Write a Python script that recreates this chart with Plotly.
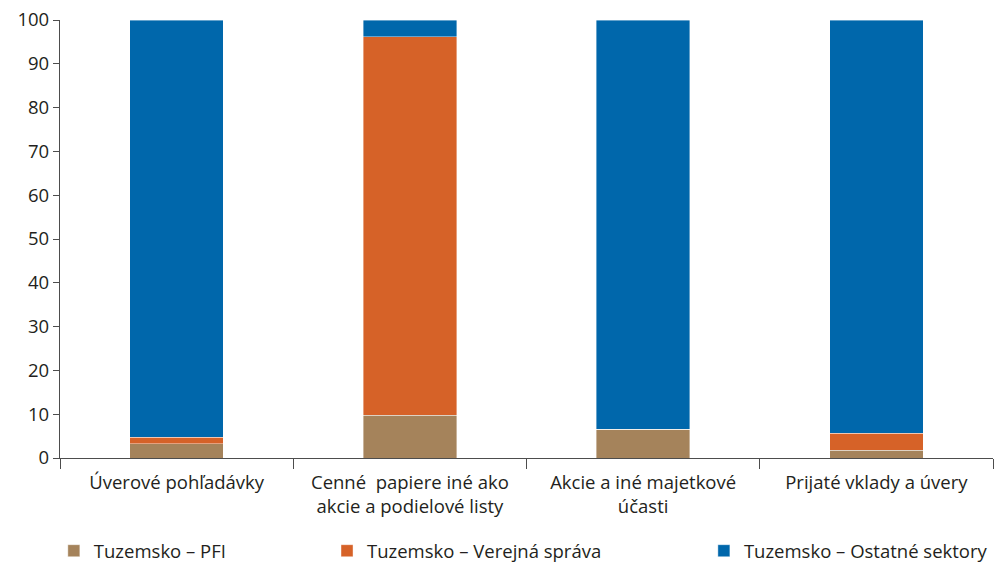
import plotly.graph_objects as go

categories = [
    "Úverové pohľadávky",
    "Cenné  papiere iné ako<br>akcie a podielové listy",
    "Akcie a iné majetkové<br>účasti",
    "Prijaté vklady a úvery",
]
pfi = [3.3, 9.8, 6.6, 1.8]
verejna_sprava = [1.4, 86.4, 0.0, 3.8]
ostatne_sektory = [95.3, 3.8, 93.4, 94.4]

series = [
    ("Tuzemsko – PFI", pfi, "#a5835b", "legend"),
    ("Tuzemsko – Verejná správa", verejna_sprava, "#d66228", "legend2"),
    ("Tuzemsko – Ostatné sektory", ostatne_sektory, "#0067ab", "legend3"),
]

font = dict(family="'Open Sans', sans-serif", size=18.5, color="#231f20")

fig = go.Figure()
for name, vals, color, leg in series:
    fig.add_trace(go.Bar(
        x=categories, y=vals, name=name, legend=leg, showlegend=True,
        marker=dict(color=color, line=dict(color="rgba(255,255,255,0.5)", width=0.8)),
    ))

leg_common = dict(orientation="h", xref="container", yref="container",
                  yanchor="middle", y=0.021, xanchor="left", visible=True,
                  font=font, bgcolor="rgba(0,0,0,0)", itemwidth=30)

fig.update_layout(
    barmode="stack",
    bargap=0.6,
    showlegend=True,
    width=997, height=563,
    margin=dict(l=60, r=4, t=20, b=105, autoexpand=False),
    paper_bgcolor="white", plot_bgcolor="white",
    font=font,
    legend=dict(leg_common, x=0.054),
    legend2=dict(leg_common, x=0.328),
    legend3=dict(leg_common, x=0.706),
    xaxis=dict(
        showline=True, linecolor="#4d4d4d", linewidth=1.2,
        ticks="outside", tickson="boundaries", ticklen=10, tickcolor="#4d4d4d",
        tickfont=font, showgrid=False, automargin=False, ticklabelstandoff=8,
    ),
    yaxis=dict(
        range=[0, 100], autorange=False,
        showline=True, linecolor="#4d4d4d", linewidth=1.2,
        ticks="outside", ticklen=6, tickcolor="#4d4d4d",
        tickvals=[0, 10, 20, 30, 40, 50, 60, 70, 80, 90, 100],
        tickfont=font, showgrid=False, zeroline=False, automargin=False,
    ),
)

fig.write_html("out.html")
